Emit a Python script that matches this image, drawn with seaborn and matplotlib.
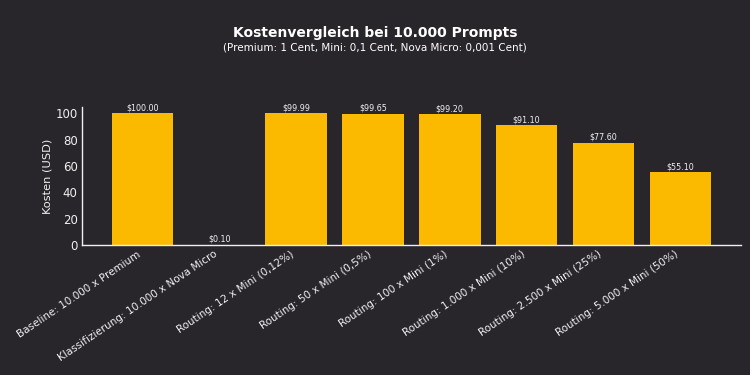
import matplotlib
matplotlib.use("Agg")
import matplotlib.pyplot as plt
import seaborn as sns
import pandas as pd

szenarien = [
    "Baseline: 10.000 x Premium",
    "Klassifizierung: 10.000 x Nova Micro",
    "Routing: 12 x Mini (0,12%)",
    "Routing: 50 x Mini (0,5%)",
    "Routing: 100 x Mini (1%)",
    "Routing: 1.000 x Mini (10%)",
    "Routing: 2.500 x Mini (25%)",
    "Routing: 5.000 x Mini (50%)",
]
kosten = [100.00, 0.10, 99.99, 99.65, 99.20, 91.10, 77.60, 55.10]

bg = "#28252b"
fg = "#f0f0f0"
gold = "#fbba00"

sns.set_style("dark", {"axes.facecolor": bg, "figure.facecolor": bg})
plt.rcParams["font.family"] = ["DejaVu Sans"]

df = pd.DataFrame({"szenario": szenarien, "kosten": kosten})

fig = plt.figure(figsize=(7.5, 3.75), dpi=100)
fig.patch.set_facecolor(bg)
ax = fig.add_axes([0.109, 0.347, 0.879, 0.368])
ax.set_facecolor(bg)

sns.barplot(data=df, x="szenario", y="kosten", color=gold, saturation=1, width=0.8,
            edgecolor="none", linewidth=0, ax=ax)
ax.set_xlim(-0.79, 7.79)
ax.set_ylim(0, 105)

for i, v in enumerate(kosten):
    ax.text(i, v + 0.8, f"${v:.2f}", ha="center", va="bottom", color=fg, fontsize=5.8)

ax.set_xlabel("")
ax.set_ylabel("Kosten (USD)", color=fg, fontsize=8.2, labelpad=2)
ax.set_yticks([0, 20, 40, 60, 80, 100])
ax.tick_params(axis="both", direction="in", colors=fg, length=3, pad=3)
ax.tick_params(axis="y", labelsize=8.5)
ax.tick_params(axis="x", labelsize=7.5)
plt.setp(ax.get_xticklabels(), rotation=34, ha="right", rotation_mode="default")
for s in ["top", "right"]:
    ax.spines[s].set_visible(False)
for s in ["left", "bottom"]:
    ax.spines[s].set_visible(True)
    ax.spines[s].set_color(fg)
    ax.spines[s].set_linewidth(1)
ax.grid(False)

fig.text(0.5, 0.912, "Kostenvergleich bei 10.000 Prompts", ha="center", va="center",
         color="white", fontsize=10, fontweight="bold")
fig.text(0.5, 0.873, "(Premium: 1 Cent, Mini: 0,1 Cent, Nova Micro: 0,001 Cent)", ha="center",
         va="center", color="white", fontsize=7.5)

fig.savefig("out.png", dpi=100, facecolor=bg)
